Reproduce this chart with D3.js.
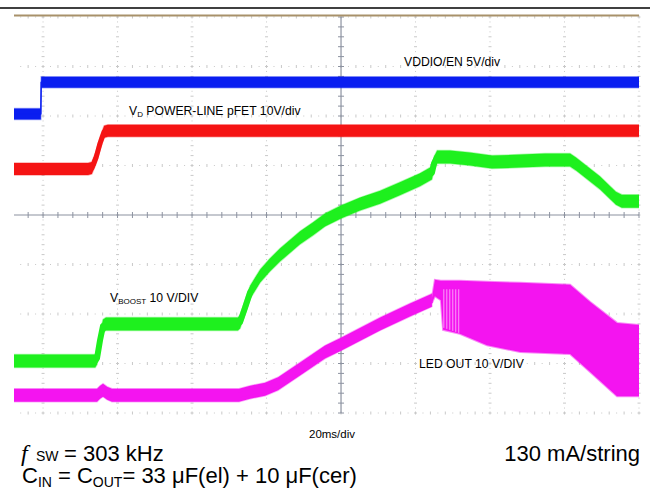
<!DOCTYPE html>
<html>
<head>
<meta charset="utf-8">
<script src="https://cdn.jsdelivr.net/npm/d3@7"></script>
<style>
  html, body { margin: 0; padding: 0; background: #ffffff; }
  svg { display: block; }
  text { font-family: "Liberation Sans", Arial, sans-serif; fill: #000; }
</style>
</head>
<body>
<svg id="chart" width="650" height="495"></svg>
<script>
// ---- Data (time in ms relative to centre graticule, amplitude in divisions) ----
const timeDomain = [-87.8, 80];
const ampDomain = [-4, 4];
const timeTicks = [-80, -60, -40, -20, 0, 20, 40, 60, 80];
const ampTicks = [-4, -3, -2, -1, 0, 1, 2, 3, 4];

// VDDIO/EN (blue)
const enT = [-87.8, -80.6, -80.5, 80];
const enV = [2.04, 2.04, 2.68, 2.68];

// VD power-line pFET (red)
const pfetT = [-87.8, -67.9, -66.9, -65.8, -64.7, -63.6, -62.6, 80];
const pfetV = [0.93, 0.93, 0.95, 1.15, 1.45, 1.68, 1.70, 1.70];

// VBOOST (green)
const boostT = [-87.8, -66.0, -65.5, -64.7, -63.9, -63.1, -27.7, -27.1, -25.8, -24.4, -21.7, -19.1, -16.4, -11.0, -7.5, -4.3, 0, 5.1, 10.5, 15.8, 21.2, 24.4, 25.0, 25.8, 29.3, 34.6, 40.5, 48.1, 54.8, 61.5, 63.1, 69.5, 73.8, 75.4, 80];
const boostV = [-2.95, -2.95, -2.89, -2.53, -2.24, -2.20, -2.20, -2.16, -1.88, -1.56, -1.23, -1.01, -0.81, -0.46, -0.28, -0.10, 0.06, 0.22, 0.36, 0.53, 0.71, 0.85, 1.05, 1.17, 1.17, 1.13, 1.07, 1.09, 1.11, 1.11, 1.03, 0.65, 0.34, 0.28, 0.28];

// LED OUT (magenta) - single trace until regulation starts
const ledT = [-87.8, -65.5, -64.7, -63.9, -62.8, -61.5, -27.4, -24.4, -20.4, -16.9, -11.0, -4.3, 0, 10.5, 18.5, 24.4];
const ledV = [-3.64, -3.64, -3.58, -3.54, -3.60, -3.64, -3.64, -3.58, -3.52, -3.41, -3.11, -2.77, -2.61, -2.20, -1.92, -1.72];

// LED OUT switching envelope (upper / lower edges)
const envT = [24.4, 25.2, 26.8, 27.4, 31.9, 39.2, 48.1, 61.5, 66.9, 74.1, 80];
const envTop = [-1.68, -1.31, -1.33, -1.33, -1.33, -1.35, -1.37, -1.41, -1.76, -2.18, -2.22];
const envBot = [-1.78, -1.64, -1.72, -2.32, -2.40, -2.63, -2.77, -2.81, -3.17, -3.66, -3.66];

// PWM streaks at the start of regulation
const streakT = [27.6, 28.4, 29.2, 30.0, 30.8, 31.6];
const streakV = [-2.28, -2.30, -2.32, -2.34, -2.36, -2.38];

const traceNames = ["VDDIO/EN 5V/div", "POWER-LINE pFET 10V/div", "10 V/DIV", "LED OUT 10 V/DIV"];

// ---- Drawing ----
const svg = d3.select("#chart");
const x = d3.scaleLinear().domain(timeDomain).range([14, 639]);
const y = d3.scaleLinear().domain(ampDomain).range([413, 17]);

// top rule
svg.append("line").attr("x1", 0).attr("x2", 650).attr("y1", 8).attr("y2", 8)
  .attr("stroke", "#000").attr("stroke-width", 1.6);

const grid = svg.append("g");
const gridColor = "#c8c8c8";
const minorT = d3.range(-88, 80.01, 4);
const minorV = d3.range(-4, 4.001, 0.2);

// dotted major verticals
timeTicks.filter(t => t !== 0).forEach(t => {
  grid.selectAll(null).data(minorV).enter().append("line")
    .attr("x1", x(t) - 1.5).attr("x2", x(t) + 1.5)
    .attr("y1", d => y(d)).attr("y2", d => y(d))
    .attr("stroke", gridColor).attr("stroke-width", 1);
  grid.selectAll(null).data(minorV.slice(0, -1)).enter().append("line")
    .attr("x1", x(t)).attr("x2", x(t))
    .attr("y1", d => y(d + 0.1) - 0.5).attr("y2", d => y(d + 0.1) + 0.5)
    .attr("stroke", gridColor).attr("stroke-width", 1);
});
// dotted major horizontals
ampTicks.filter(v => v !== 0).forEach(v => {
  grid.selectAll(null).data(minorT.filter(t => x(t) >= 14)).enter().append("line")
    .attr("x1", d => x(d)).attr("x2", d => x(d))
    .attr("y1", y(v) - 1.5).attr("y2", y(v) + 1.5)
    .attr("stroke", gridColor).attr("stroke-width", 1);
  grid.selectAll(null).data(minorT.filter(t => x(t + 2) >= 14 && t < 80)).enter().append("line")
    .attr("x1", d => x(d + 2) - 0.5).attr("x2", d => x(d + 2) + 0.5)
    .attr("y1", y(v)).attr("y2", y(v))
    .attr("stroke", gridColor).attr("stroke-width", 1);
});
// centre axes
const axisColor = "#8c92a0";
grid.append("line").attr("x1", 14).attr("x2", 639).attr("y1", y(0)).attr("y2", y(0))
  .attr("stroke", axisColor).attr("stroke-width", 1.2);
grid.append("line").attr("x1", x(0)).attr("x2", x(0)).attr("y1", y(4)).attr("y2", y(-4))
  .attr("stroke", axisColor).attr("stroke-width", 1.2);
grid.selectAll(null).data(minorT.filter(t => x(t) >= 14)).enter().append("line")
  .attr("x1", d => x(d)).attr("x2", d => x(d))
  .attr("y1", y(0) - 3).attr("y2", y(0) + 3)
  .attr("stroke", axisColor).attr("stroke-width", 1);
grid.selectAll(null).data(minorV).enter().append("line")
  .attr("x1", x(0) - 3).attr("x2", x(0) + 3)
  .attr("y1", d => y(d)).attr("y2", d => y(d))
  .attr("stroke", axisColor).attr("stroke-width", 1);

// tan frame line at top
svg.append("line").attr("x1", 14).attr("x2", 639).attr("y1", 15.5).attr("y2", 15.5)
  .attr("stroke", "#a8916a").attr("stroke-width", 2.2);

// clip
svg.append("clipPath").attr("id", "plotclip").append("rect")
  .attr("x", 14).attr("y", 16).attr("width", 625).attr("height", 400);
const plot = svg.append("g").attr("clip-path", "url(#plotclip)");

// a trace is drawn as a band of vertical noise around its centre line
const line = d3.line().x(d => x(d[0])).y(d => y(d[1]));
function trace(T, V, color, halfPx, coreW) {
  const pts = T.map((t, i) => [t, V[i]]);
  const band = d3.area().x(d => x(d[0]))
    .y0(d => y(d[1]) + halfPx).y1(d => y(d[1]) - halfPx);
  plot.append("path").attr("d", band(pts)).attr("fill", color)
    .attr("stroke", color).attr("stroke-opacity", 0.35).attr("stroke-width", 1.5);
  plot.append("path").attr("d", line(pts)).attr("fill", "none")
    .attr("stroke", color).attr("stroke-width", coreW)
    .attr("stroke-linejoin", "round");
}

trace(enT, enV, "#0a1ef0", 5.5, 1.5);
trace(pfetT, pfetV, "#f51414", 6, 5);
trace(boostT, boostV, "#1ef01e", 6.5, 6);
trace(ledT, ledV, "#f414f0", 6.5, 5);

// envelope
const area = d3.area().x(d => x(d.t)).y0(d => y(d.b)).y1(d => y(d.u));
const envData = envT.map((t, i) => ({ t: t, u: envTop[i], b: envBot[i] }));
plot.append("path").attr("d", area(envData)).attr("fill", "#f414f0")
  .attr("stroke", "#f414f0").attr("stroke-opacity", 0.5).attr("stroke-width", 2);
plot.selectAll(null).data(streakT).enter().append("line")
  .attr("x1", d => x(d)).attr("x2", d => x(d))
  .attr("y1", y(-1.5)).attr("y2", (d, i) => y(streakV[i]))
  .attr("stroke", "#fa9cf8").attr("stroke-width", 1);

// ---- Labels ----
function label(xp, yp, parts, size) {
  const t = svg.append("text").attr("x", xp).attr("y", yp).style("font-size", size + "px");
  parts.forEach(p => {
    const s = t.append("tspan").text(p.text);
    if (p.sub) s.style("font-size", p.sub + "px").attr("dy", p.dy);
    if (p.back) s.attr("dy", p.back);
  });
  return t;
}
label(404, 65.5, [{ text: traceNames[0] }], 12.2);
label(129, 115, [{ text: "V" }, { text: "D", sub: 8, dy: 2 }, { text: " " + traceNames[1], back: -2 }], 12.2);
label(110, 301.5, [{ text: "V" }, { text: "BOOST", sub: 8, dy: 2 }, { text: " " + traceNames[2], back: -2 }], 12.2);
label(419, 368, [{ text: traceNames[3] }], 12.2);

svg.append("text").attr("x", 309).attr("y", 438).style("font-size", "11.5px").text("20ms/div");

svg.append("text").attr("x", 21).attr("y", 460.5)
  .style("font-family", "'Liberation Serif', serif").style("font-style", "italic")
  .style("font-size", "24px").text("f");
svg.append("text").attr("x", 36).attr("y", 461).style("font-size", "14px").text("SW");
svg.append("text").attr("x", 64).attr("y", 460.5).style("font-size", "22px").text("= 303 kHz");
svg.append("text").attr("x", 640).attr("y", 460.5).attr("text-anchor", "end")
  .style("font-size", "22px").text("130 mA/string");
label(22, 482.5, [{ text: "C" }, { text: "IN", sub: 14, dy: 4 }, { text: " = C", back: -4 },
  { text: "OUT", sub: 14, dy: 4 }, { text: "= 33 μF(el) + 10 μF(cer)", back: -4 }], 22);
</script>
</body>
</html>
